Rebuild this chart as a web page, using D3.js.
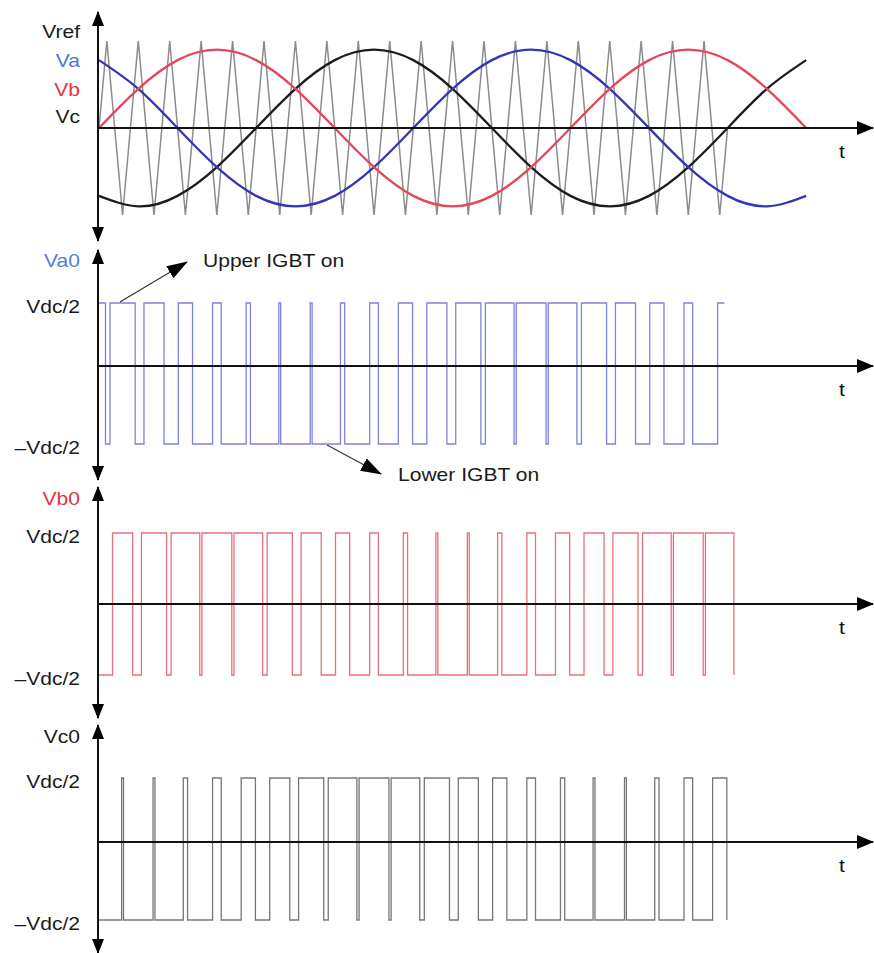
<!DOCTYPE html>
<html>
<head>
<meta charset="utf-8">
<script src="https://cdn.jsdelivr.net/npm/d3@7"></script>
<style>
  body { margin: 0; background: #fff; }
  svg { display: block; }
</style>
</head>
<body>
<div id="chart"></div>
<script>
// Carrier (triangle) vertices, time in carrier periods, value in carrier units
const carrierT = [0, 0.25, 0.75, 1.25, 1.75, 2.25, 2.75, 3.25, 3.75, 4.25, 4.75, 5.25, 5.75, 6.25, 6.75,
  7.25, 7.75, 8.25, 8.75, 9.25, 9.75, 10.25, 10.75, 11.25, 11.75, 12.25, 12.75, 13.25, 13.75, 14.25,
  14.75, 15.25, 15.75, 16.25, 16.75, 17.25, 17.75, 18.25, 18.75, 19.25, 19.75, 20];
const carrierV = [0, 1, -1, 1, -1, 1, -1, 1, -1, 1, -1, 1, -1, 1, -1, 1, -1, 1, -1, 1, -1,
  1, -1, 1, -1, 1, -1, 1, -1, 1, -1, 1, -1, 1, -1, 1, -1, 1, -1, 1, -1, 0];

// Reference sine samples (read every 30 degrees)
const refT = [0, 1.25, 2.5, 3.75, 5, 6.25, 7.5, 8.75, 10, 11.25, 12.5, 13.75, 15, 16.25, 17.5, 18.75, 20, 21.25, 22.5];
const vaRef = [0.78, 0.45, 0, -0.45, -0.78, -0.9, -0.78, -0.45, 0, 0.45, 0.78, 0.9, 0.78, 0.45, 0, -0.45, -0.78, -0.9, -0.78];
const vbRef = [0, 0.45, 0.78, 0.9, 0.78, 0.45, 0, -0.45, -0.78, -0.9, -0.78, -0.45, 0, 0.45, 0.78, 0.9, 0.78, 0.45, 0];
const vcRef = [-0.78, -0.9, -0.78, -0.45, 0, 0.45, 0.78, 0.9, 0.78, 0.45, 0, -0.45, -0.78, -0.9, -0.78, -0.45, 0, 0.45, 0.78];

// PWM switching instants (carrier periods); level flips at every edge
const vaStart = 1, vaEnd = 19.9;
const vaEdges = [0.206, 0.350, 1.150, 1.431, 2.070, 2.524, 2.976, 3.613, 3.888, 4.682, 4.818, 5.720, 5.780,
  6.720, 6.780, 7.682, 7.818, 8.613, 8.888, 9.524, 9.976, 10.431, 11.070, 11.350, 12.150, 12.294, 13.206,
  13.275, 14.225, 14.294, 15.206, 15.350, 16.150, 16.431, 17.070, 17.524, 17.976, 18.613, 18.888, 19.682];
const vbStart = -1, vbEnd = 20.2;
const vbEdges = [0.431, 1.070, 1.350, 2.150, 2.294, 3.206, 3.275, 4.225, 4.294, 5.206, 5.350, 6.150, 6.431,
  7.070, 7.524, 7.976, 8.613, 8.888, 9.682, 9.818, 10.720, 10.780, 11.720, 11.780, 12.682, 12.818, 13.613,
  13.888, 14.524, 14.976, 15.431, 16.070, 16.350, 17.150, 17.294, 18.206, 18.275, 19.225, 19.294, 20.2];
const vcStart = -1, vcEnd = 19.976;
const vcEdges = [0.720, 0.780, 1.720, 1.780, 2.682, 2.818, 3.613, 3.888, 4.524, 4.976, 5.431, 6.070, 6.350,
  7.150, 7.294, 8.206, 8.275, 9.225, 9.294, 10.206, 10.350, 11.150, 11.431, 12.070, 12.524, 12.976, 13.613,
  13.888, 14.682, 14.818, 15.720, 15.780, 16.720, 16.780, 17.682, 17.818, 18.613, 18.888, 19.524, 19.976];

// Tick labels for the dc levels
const levelValues = [-1, 1];
const levelLabels = ["\u2013Vdc/2", "Vdc/2"];

const width = 874, height = 953;
const sx = 1.17;            // lettering in the picture is slightly wide
const font = "'Liberation Sans', Arial, Helvetica, sans-serif";
const fontSize = 18;

const svg = d3.select("#chart").append("svg")
    .attr("width", width)
    .attr("height", height);

// Arrow heads
const defs = svg.append("defs");
function marker(id, len, wid) {
    defs.append("marker")
        .attr("id", id)
        .attr("viewBox", `0 0 ${len} ${wid}`)
        .attr("refX", len - 1)
        .attr("refY", wid / 2)
        .attr("markerWidth", len)
        .attr("markerHeight", wid)
        .attr("markerUnits", "userSpaceOnUse")
        .attr("orient", "auto-start-reverse")
        .append("path")
        .attr("d", `M0,0L${len},${wid / 2}L0,${wid}Z`)
        .attr("fill", "#000");
}
marker("tHead", 17, 14);
marker("yHead", 15, 12);
marker("annHead", 21, 14);

// Shared time scale
const x = d3.scaleLinear().domain([0, 20]).range([99, 727.6]);
const axisX = 98, tipX = 873;

// Panel layout
const panels = [
    { y: d3.scaleLinear().domain([-1, 1]).range([215, 41]), zeroY: 128, top: 12, bottom: 241, tY: 158 },
    { y: d3.scaleLinear().domain([-1, 0, 1]).range([444, 366, 303]), zeroY: 366, top: 250, bottom: 480, tY: 396 },
    { y: d3.scaleLinear().domain([-1, 0, 1]).range([675, 604, 533]), zeroY: 604, top: 487, bottom: 718, tY: 634 },
    { y: d3.scaleLinear().domain([-1, 0, 1]).range([920, 842, 778]), zeroY: 842, top: 725, bottom: 953, tY: 872 }
];

function label(g, px, py, text, anchor, color) {
    return g.append("text")
        .attr("transform", `translate(${px},${py}) scale(${sx},1)`)
        .attr("text-anchor", anchor)
        .style("font-family", font)
        .style("font-size", fontSize + "px")
        .style("fill", color)
        .text(text);
}

// ---- Panel 1: references and carrier ----
const p1 = panels[0];
const carrierLine = d3.line()
    .x((d, i) => x(carrierT[i]))
    .y(d => p1.y(d));
svg.append("path")
    .datum(carrierV)
    .attr("fill", "none")
    .attr("stroke", "#8c8c8c")
    .attr("stroke-width", 1.5)
    .attr("stroke-linejoin", "miter")
    .attr("d", carrierLine);

const sineLine = d3.line()
    .x((d, i) => x(refT[i]))
    .y(d => p1.y(d))
    .curve(d3.curveNatural);

const refs = [
    { data: vcRef, color: "#1c1c1c" },
    { data: vaRef, color: "#3535b5" },
    { data: vbRef, color: "#e2475a" }
];
refs.forEach(r => {
    svg.append("path")
        .datum(r.data)
        .attr("fill", "none")
        .attr("stroke", r.color)
        .attr("stroke-width", 2.3)
        .attr("d", sineLine);
});

// ---- PWM panels ----
function stepPoints(start, edges, end) {
    const pts = [[0, start]];
    let lvl = start;
    edges.forEach(e => { lvl = -lvl; pts.push([e, lvl]); });
    if (end > edges[edges.length - 1]) pts.push([end, lvl]);
    return pts;
}

const pwm = [
    { panel: panels[1], pts: stepPoints(vaStart, vaEdges, vaEnd), color: "#8080e0" },
    { panel: panels[2], pts: stepPoints(vbStart, vbEdges, vbEnd), color: "#e8707c" },
    { panel: panels[3], pts: stepPoints(vcStart, vcEdges, vcEnd), color: "#777" }
];
pwm.forEach(w => {
    const line = d3.line()
        .x(d => x(d[0]))
        .y(d => w.panel.y(d[1]))
        .curve(d3.curveStepAfter);
    svg.append("path")
        .datum(w.pts)
        .attr("fill", "none")
        .attr("stroke", w.color)
        .attr("stroke-width", 1.3)
        .attr("d", line);

    // dc level labels through a left axis
    const ax = svg.append("g")
        .attr("transform", `translate(${axisX},0)`)
        .call(d3.axisLeft(w.panel.y)
            .tickValues(levelValues)
            .tickFormat((d, i) => levelLabels[i])
            .tickSize(0)
            .tickPadding(18 / sx));
    ax.select(".domain").remove();
    ax.selectAll("text")
        .attr("transform", `scale(${sx},1)`)
        .attr("dy", "0.5em")
        .style("font-family", font)
        .style("font-size", fontSize + "px")
        .style("fill", "#1a1a1a");
});

// ---- Axes with arrow heads ----
panels.forEach(p => {
    svg.append("line")
        .attr("x1", axisX).attr("x2", axisX)
        .attr("y1", p.top).attr("y2", p.bottom)
        .attr("stroke", "#111")
        .attr("stroke-width", 2)
        .attr("marker-start", "url(#yHead)")
        .attr("marker-end", "url(#yHead)");
    svg.append("line")
        .attr("x1", axisX).attr("x2", tipX)
        .attr("y1", p.zeroY).attr("y2", p.zeroY)
        .attr("stroke", "#111")
        .attr("stroke-width", 2)
        .attr("marker-end", "url(#tHead)");
    label(svg, 842, p.tY, "t", "middle", "#111");
});

// ---- Labels ----
label(svg, 80, 38, "Vref", "end", "#1a1a1a");
label(svg, 80, 67, "Va", "end", "#4778d6");
label(svg, 80, 96, "Vb", "end", "#e5323f");
label(svg, 80, 123, "Vc", "end", "#1a1a1a");
label(svg, 80, 267, "Va0", "end", "#4f7fd2");
label(svg, 80, 505, "Vb0", "end", "#e5323f");
label(svg, 80, 743, "Vc0", "end", "#1a1a1a");

// Annotations
label(svg, 203, 267, "Upper IGBT on", "start", "#1a1a1a");
label(svg, 398, 481, "Lower IGBT on", "start", "#1a1a1a");
svg.append("line")
    .attr("x1", 120).attr("y1", 302)
    .attr("x2", 187).attr("y2", 262)
    .attr("stroke", "#333")
    .attr("stroke-width", 1.2)
    .attr("marker-end", "url(#annHead)");
svg.append("line")
    .attr("x1", 327).attr("y1", 445)
    .attr("x2", 381).attr("y2", 474)
    .attr("stroke", "#333")
    .attr("stroke-width", 1.2)
    .attr("marker-end", "url(#annHead)");
</script>
</body>
</html>
